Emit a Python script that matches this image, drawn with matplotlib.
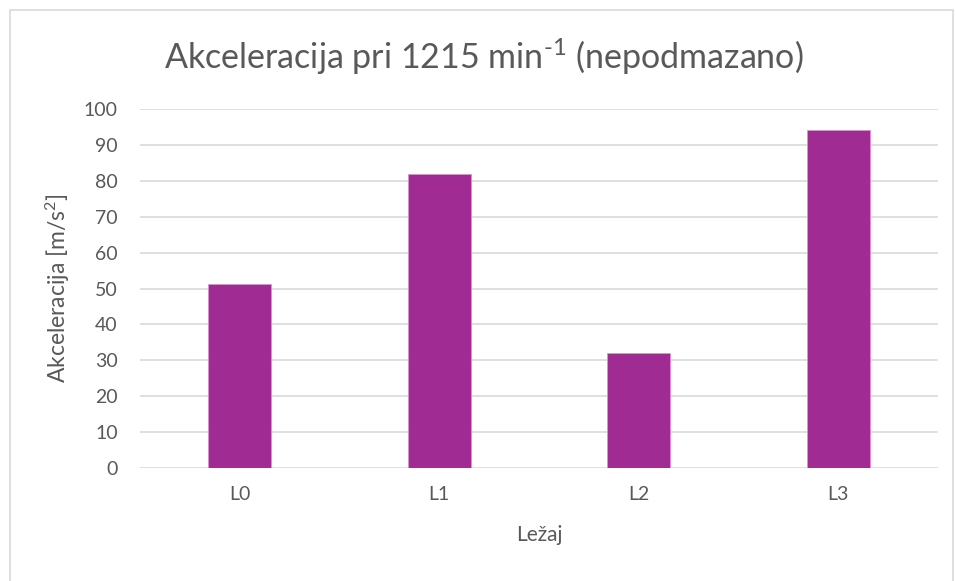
import matplotlib
matplotlib.use("Agg")
import matplotlib.pyplot as plt
from matplotlib.patches import Rectangle

categories = ["L0", "L1", "L2", "L3"]
values = [51.3, 81.9, 32.0, 94.2]
yticks = [0, 10, 20, 30, 40, 50, 60, 70, 80, 90, 100]

plt.rcParams["font.family"] = ["Lato", "DejaVu Sans"]
plt.rcParams["mathtext.fontset"] = "custom"
plt.rcParams["mathtext.rm"] = "Lato"
plt.rcParams["mathtext.it"] = "Lato"
plt.rcParams["mathtext.default"] = "rm"

txt = "#595959"
fig = plt.figure(figsize=(9.55, 5.81), dpi=100)
fig.patches.append(Rectangle((10 / 955, -0.01), 943 / 955, 571 / 581 + 0.01, transform=fig.transFigure,
                             fill=False, edgecolor="#d9d9d9", linewidth=1.2))

ax = fig.add_axes([140 / 955, 113 / 581, 798 / 955, 359 / 581])
ax.bar(categories, values, width=0.316, color="#A02B93", edgecolor="#e08fd6", linewidth=0.6, zorder=3)
ax.set_ylim(0, 100)
ax.set_xlim(-0.5, 3.5)
ax.set_yticks(yticks)
ax.grid(axis="y", color="#d9d9d9", linewidth=1.2, zorder=0)
for s in ax.spines.values():
    s.set_visible(False)
ax.tick_params(length=0, colors=txt, labelsize=14)
ax.tick_params(axis="x", pad=13)
ax.tick_params(axis="y", pad=16)

ax.yaxis.set_label_coords(-68 / 798, 0.5)
ax.set_ylabel("Akceleracija [m/s$^2$]", fontsize=16.5, color=txt)
ax.set_xlabel("Ležaj", fontsize=15, color=txt, labelpad=16)
fig.text(484 / 955, 1 - 57 / 581, "Akceleracija pri 1215 min$^{\\text{-}1}$ (nepodmazano)",
         ha="center", va="center", fontsize=24.5, color=txt)

fig.savefig("out.png", dpi=100)
